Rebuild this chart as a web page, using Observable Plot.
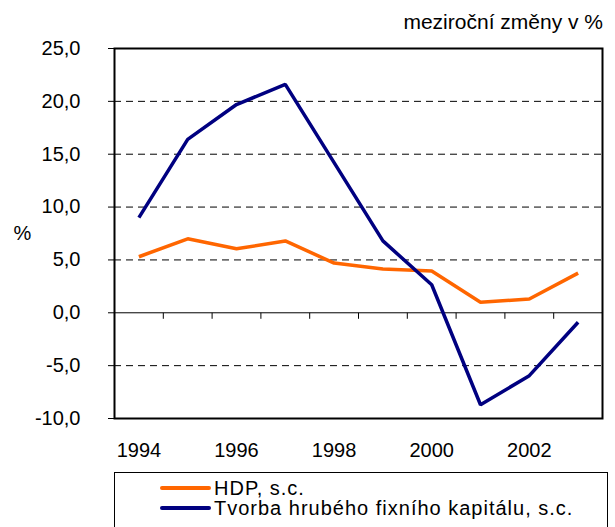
<!DOCTYPE html>
<html><head><meta charset="utf-8">
<script src="https://cdn.jsdelivr.net/npm/d3@7"></script>
<script src="https://cdn.jsdelivr.net/npm/@observablehq/plot@0.6"></script>
<style>
body{margin:0;background:#fff;font-family:"Liberation Sans",Arial,sans-serif;color:#000;}
#wrap{position:relative;width:615px;height:527px;overflow:hidden;background:#fff;}
#chart{position:absolute;left:0;top:0;}
#title{position:absolute;right:12px;top:12px;font-size:21px;line-height:20px;white-space:nowrap;}
#legend{position:absolute;left:114px;top:472px;width:494px;height:80px;border:1px solid #000;box-sizing:border-box;background:#fff;}
.row{position:absolute;left:45px;height:20px;display:flex;align-items:center;font-size:20px;line-height:20px;white-space:nowrap;letter-spacing:1px;}
.sw{width:51px;height:4px;border-radius:2px;margin-right:3px;}
</style></head>
<body><div id="wrap"><div id="chart"></div><div id="title">meziroční změny v %</div><div id="legend"></div></div>
<script>
const years = [1994, 1995, 1996, 1997, 1998, 1999, 2000, 2001, 2002, 2003];
const hdp = [5.3, 7.0, 6.05, 6.8, 4.7, 4.15, 3.95, 1.0, 1.3, 3.75];
const tvorba = [9.0, 16.4, 19.7, 21.6, 14.2, 6.8, 2.65, -8.7, -5.95, -0.9];
const seriesNames = ["HDP, s.c.", "Tvorba hrubého fixního kapitálu, s.c."];
const seriesColors = ["#FF6600", "#000080"];
const yTicks = [-10, -5, 0, 5, 10, 15, 20, 25];
const gridValues = [-5, 5, 10, 15, 20];
const xTickLabels = [1994, 1996, 1998, 2000, 2002];
const yLabel = "%";

const rows = [];
years.forEach((yr, i) => {
  rows.push({year: yr, value: hdp[i], series: seriesNames[0]});
  rows.push({year: yr, value: tvorba[i], series: seriesNames[1]});
});
const between = years.slice(0, -1).map(y => y + 0.5);

const tickSymbol = {draw(ctx) { ctx.moveTo(0, 0); ctx.lineTo(0, 6); }};

const chart = Plot.plot({
  width: 615,
  height: 472,
  marginTop: 48,
  marginBottom: 54,
  marginLeft: 114,
  marginRight: 13,
  style: {fontSize: "20px", fontFamily: "'Liberation Sans', Arial, sans-serif", color: "#000", background: "transparent"},
  x: {domain: [years[0] - 0.5, years[years.length - 1] + 0.5], ticks: xTickLabels, tickFormat: d => String(d), tickSize: 0, tickPadding: 24, label: null},
  y: {domain: [yTicks[0], yTicks[yTicks.length - 1]], ticks: yTicks, tickFormat: d => d.toFixed(1).replace(".", ","), tickSize: 6, tickPadding: 28, label: null},
  color: {domain: seriesNames, range: seriesColors},
  marks: [
    Plot.ruleY(gridValues, {stroke: "#000", strokeWidth: 1, strokeDasharray: "7,5"}),
    Plot.ruleY([0], {stroke: "#000", strokeWidth: 1}),
    Plot.dot(between, {x: d => d, y: 0, symbol: tickSymbol, stroke: "#000", strokeWidth: 1, fill: "none"}),
    Plot.line(rows, {x: "year", y: "value", z: "series", stroke: "series", strokeWidth: 3.5, strokeLinejoin: "miter", strokeLinecap: "butt"}),
    Plot.frame({stroke: "#000", strokeWidth: 2}),
    Plot.text([yLabel], {frameAnchor: "left", dx: -92, text: d => d, fontSize: 20, textAnchor: "middle"})
  ]
});
document.getElementById("chart").appendChild(chart);

const legend = document.getElementById("legend");
seriesNames.forEach((name, i) => {
  const row = document.createElement("div");
  row.className = "row";
  row.style.top = (5 + i * 20) + "px";
  const sw = document.createElement("div");
  sw.className = "sw";
  sw.style.background = seriesColors[i];
  const t = document.createElement("span");
  t.textContent = name;
  row.appendChild(sw);
  row.appendChild(t);
  legend.appendChild(row);
});
</script></body></html>
